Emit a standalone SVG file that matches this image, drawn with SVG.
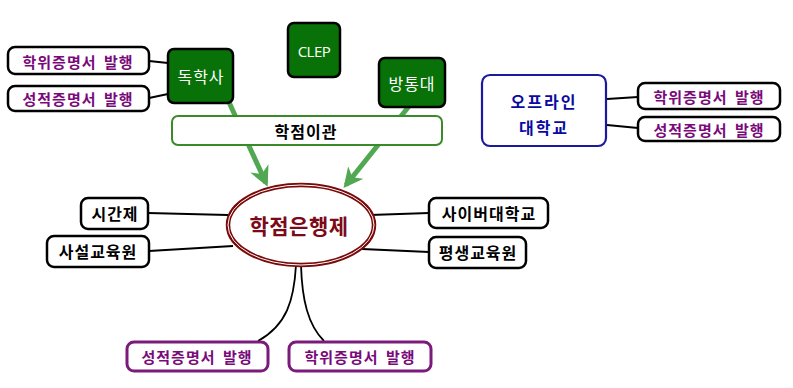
<svg xmlns="http://www.w3.org/2000/svg" width="793" height="388" viewBox="0 0 793 388">
<defs>
<style>
.k{font-family:"Noto Sans CJK KR","Noto Sans",sans-serif;font-weight:bold;text-anchor:middle;dominant-baseline:central}
.blk{fill:#fff;stroke:#000;stroke-width:2.5}
.grn{fill:#087208;stroke:#000;stroke-width:2.5}
.pur{fill:#7a0a7a;font-size:15px;letter-spacing:1px;word-spacing:3px}
.bt{fill:#000;font-size:16px;letter-spacing:1px}
.wt{fill:#fff;font-size:16px;letter-spacing:1px;font-weight:normal}
.ln{fill:none;stroke:#000;stroke-width:1.8}
.ga{fill:none;stroke:#52a852;stroke-width:5}
</style>
<marker id="ah" viewBox="0 0 10 10" refX="8" refY="5" markerWidth="4" markerHeight="4" orient="auto" markerUnits="strokeWidth">
<path d="M0,0 L10,5 L0,10 L3,5 z" fill="#52a852"/>
</marker>
</defs>
<rect width="793" height="388" fill="#fff"/>
<g id="connectors">
<path class="ga" d="M228,100 L266,183" marker-end="url(#ah)"/>
<path class="ga" d="M410,105 L346,185" marker-end="url(#ah)"/>
<path class="ln" d="M149,61 L168,63"/>
<path class="ln" d="M149,98 L168,94"/>
<path class="ln" d="M607,99 L638,97"/>
<path class="ln" d="M607,125 L638,128"/>
<path class="ln" d="M148,213 L228,215"/>
<path class="ln" d="M149,251 L233,246"/>
<path class="ln" d="M370,215 L429,213"/>
<path class="ln" d="M362,249 L429,252"/>
<path class="ln" d="M296,265 C294,300 287,325 258,341"/>
<path class="ln" d="M301,265 C302,300 308,325 324,341"/>
</g>
<g id="n-dokhaksa">
<rect class="grn" x="168" y="49" width="65" height="54" rx="6"/>
<text class="k wt" x="201" y="76">독학사</text>
</g>
<g id="n-clep">
<rect class="grn" x="288" y="23" width="52" height="54" rx="6"/>
<text x="314" y="51" fill="#fff" font-family="'Open Sans','Noto Sans',sans-serif" font-size="15" text-anchor="middle" dominant-baseline="central" letter-spacing="-0.5">CLEP</text>
</g>
<g id="n-bangtongdae">
<rect class="grn" x="379" y="58" width="66" height="49" rx="6"/>
<text class="k wt" x="412" y="83">방통대</text>
</g>
<g id="n-transfer">
<rect x="172" y="116" width="270" height="29" rx="6" fill="#fff" stroke="#3a8a2a" stroke-width="2"/>
<text class="k bt" x="306" y="131">학점이관</text>
</g>
<g id="n-l-degree">
<rect class="blk" x="8" y="47" width="141" height="27" rx="7"/>
<text class="k pur" x="78" y="61">학위증명서 발행</text>
</g>
<g id="n-l-grade">
<rect class="blk" x="8" y="86" width="141" height="25" rx="7"/>
<text class="k pur" x="78" y="98">성적증명서 발행</text>
</g>
<g id="n-offline">
<rect x="482" y="75" width="124" height="71" rx="8" fill="#fff" stroke="#1a1aa0" stroke-width="2.2"/>
<text class="k" x="544" y="101" fill="#0a0aa0" style="font-size:16px;letter-spacing:2px">오프라인</text>
<text class="k" x="544" y="127" fill="#0a0aa0" style="font-size:16px;letter-spacing:2px">대학교</text>
</g>
<g id="n-r-degree">
<rect class="blk" x="638" y="83" width="142" height="26" rx="7"/>
<text class="k pur" x="709" y="96">학위증명서 발행</text>
</g>
<g id="n-r-grade">
<rect class="blk" x="638" y="117" width="142" height="24" rx="7"/>
<text class="k pur" x="709" y="129">성적증명서 발행</text>
</g>
<g id="n-center">
<ellipse cx="301" cy="225" rx="73" ry="40" fill="#fff" stroke="#7a0a0a" stroke-width="4.5"/>
<ellipse cx="301" cy="225" rx="73" ry="40" fill="none" stroke="#fff" stroke-width="1"/>
<text class="k" x="299" y="225" fill="#7a0a1a" style="font-size:21px;letter-spacing:0.5px">학점은행제</text>
</g>
<g id="n-sigan">
<rect class="blk" x="81" y="198" width="67" height="31" rx="7"/>
<text class="k bt" x="115" y="213">시간제</text>
</g>
<g id="n-saseol">
<rect class="blk" x="47" y="236" width="102" height="31" rx="7"/>
<text class="k bt" x="98" y="251">사설교육원</text>
</g>
<g id="n-cyber">
<rect class="blk" x="429" y="198" width="119" height="30" rx="7"/>
<text class="k bt" x="489" y="213">사이버대학교</text>
</g>
<g id="n-pyeongsaeng">
<rect class="blk" x="429" y="237" width="97" height="31" rx="7"/>
<text class="k bt" x="478" y="252">평생교육원</text>
</g>
<g id="n-b-grade">
<rect x="127" y="342" width="141" height="29" rx="7" fill="#fff" stroke="#7a1a7a" stroke-width="3"/>
<text class="k pur" x="197" y="356">성적증명서 발행</text>
</g>
<g id="n-b-degree">
<rect x="289" y="342" width="142" height="29" rx="7" fill="#fff" stroke="#7a1a7a" stroke-width="3"/>
<text class="k pur" x="360" y="356">학위증명서 발행</text>
</g>
</svg>
